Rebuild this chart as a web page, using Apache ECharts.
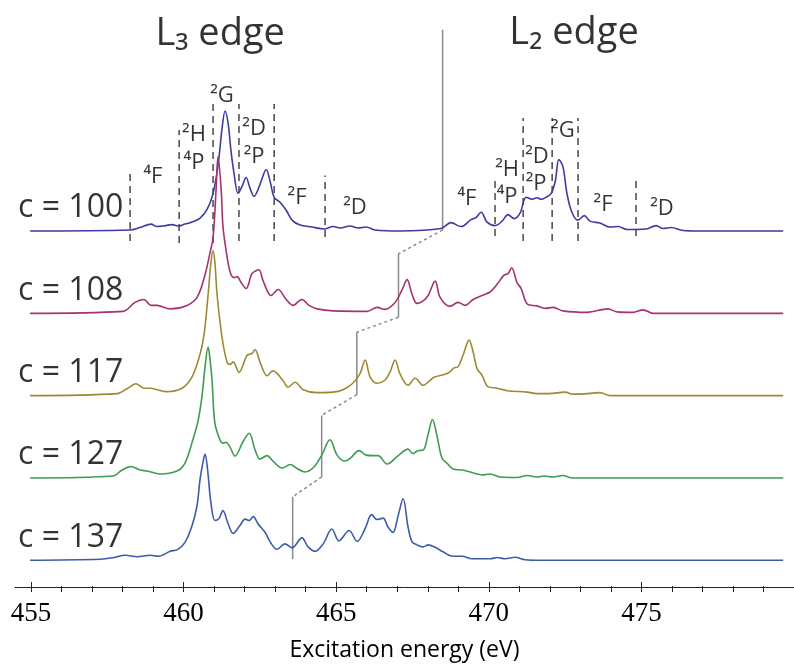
<!DOCTYPE html>
<html>
<head>
<meta charset="utf-8">
<script src="https://cdn.jsdelivr.net/npm/echarts@6/dist/echarts.min.js"></script>
<style>
  html, body { margin: 0; padding: 0; background: #fff; }
  #chart { width: 794px; height: 667px; }
</style>
</head>
<body>
<div id="chart"></div>
<script>
// spectra: [excitation energy (eV), intensity above own baseline]
const c100 = [[454.97,0],[458.21,1],[458.53,3.5],[458.89,7],[459.08,4.5],[459.28,5],[459.57,6.5],[459.76,5],[459.99,7],[460.22,9],[460.48,13],[460.71,22],[460.90,38],[461.06,66],[461.19,103],[461.29,121],[461.39,108],[461.48,81],[461.58,58],[461.71,38],[461.84,45],[461.97,54],[462.10,43],[462.23,35],[462.36,42],[462.49,53],[462.62,62],[462.75,50],[462.88,34],[463.07,29],[463.27,21],[463.46,11],[463.72,6],[464.11,4],[464.50,2],[464.79,4.5],[465.02,3],[465.34,5],[465.60,3],[465.86,4],[466.15,1],[466.96,0],[468.29,2.5],[468.61,8.5],[468.94,4.5],[469.26,11.5],[469.42,13.5],[469.59,19],[469.78,9],[470.04,5.5],[470.27,10],[470.46,16.5],[470.66,12.5],[470.85,18],[471.05,34],[471.24,32],[471.40,33.5],[471.53,32],[471.69,34],[471.86,38],[471.99,50],[472.11,72],[472.24,65],[472.37,38],[472.53,19],[472.73,11],[472.93,15.5],[473.12,10],[473.44,8],[473.77,4],[474.03,4.5],[474.32,1.5],[474.94,2],[475.26,5.5],[475.49,2.5],[475.75,3.5],[476.13,0.5],[476.69,0],[479.38,0]];
const c108 = [[454.97,0],[457.98,2],[458.37,11],[458.66,14],[458.89,8],[459.08,8],[459.51,4.5],[460.06,8],[460.38,16],[460.64,39],[460.80,61],[460.90,76],[461.00,126],[461.06,158],[461.16,126],[461.22,88],[461.32,64],[461.45,42],[461.58,36],[461.68,37],[461.81,31],[461.97,25],[462.16,40],[462.29,43],[462.39,44],[462.52,33],[462.78,18],[463.01,24],[463.27,14],[463.49,8],[463.78,14],[464.01,8],[464.27,4.5],[464.79,2.5],[465.89,2],[466.22,6],[466.47,4],[466.80,11],[467.03,24],[467.19,34],[467.35,19],[467.51,10],[467.71,12.5],[467.87,18],[468.10,32.5],[468.26,16],[468.58,7],[468.84,11],[469.07,8],[469.33,14],[469.62,18],[469.88,21.5],[470.11,29.5],[470.33,38.5],[470.46,40],[470.58,46],[470.75,31],[470.88,25.5],[471.10,9],[471.40,7.5],[471.66,5],[471.92,6],[472.24,2.5],[473.02,1],[473.70,4.5],[473.99,1.5],[474.51,1],[474.84,3.5],[475.16,0],[479.38,0]];
const c117 = [[454.97,0],[457.79,2],[458.11,7],[458.40,12],[458.66,7.5],[458.86,7.5],[459.38,4],[459.89,7.5],[460.22,19],[460.48,42],[460.61,62],[460.74,102],[460.83,134],[460.90,146],[460.96,134],[461.03,102],[461.19,59],[461.35,34],[461.45,31.5],[461.55,34],[461.74,23.5],[462.00,40.5],[462.16,42.5],[462.26,46.5],[462.42,34],[462.65,20],[462.84,25],[463.17,15],[463.33,8.5],[463.56,13.5],[463.82,6],[464.27,3],[464.79,3.5],[465.11,6],[465.41,12],[465.66,22],[465.83,36],[465.99,19],[466.22,12.5],[466.47,15.5],[466.64,24],[466.80,36],[466.96,22],[467.22,10.5],[467.45,17.5],[467.71,10.5],[468.06,18.5],[468.42,21.5],[468.58,24],[468.71,28],[468.84,29],[469.00,40.5],[469.20,56],[469.33,44],[469.46,27],[469.62,20.5],[469.81,9],[470.11,7.5],[470.43,5],[471.08,3.5],[471.40,2],[471.79,2],[472.31,3.5],[472.57,1.5],[472.80,1.5],[473.44,3],[473.77,0],[479.38,0]];
const c127 = [[454.97,0],[457.66,2],[457.95,8],[458.24,11.5],[458.53,8],[458.76,7],[459.18,4],[459.73,7],[459.99,15],[460.25,39],[460.41,57],[460.54,82],[460.64,112],[460.74,132],[460.80,120],[460.87,97],[460.96,55],[461.13,38],[461.22,35],[461.32,36],[461.45,31],[461.61,22],[461.87,36.5],[462.07,45],[462.26,28.5],[462.42,19],[462.65,22.5],[462.84,17],[463.14,10],[463.40,13.5],[463.62,9.5],[463.88,6],[464.17,11],[464.43,23.5],[464.69,38.5],[464.92,23],[465.18,17],[465.37,20.5],[465.63,27.5],[465.86,23],[466.09,22.5],[466.25,22.5],[466.54,14],[466.90,22.5],[467.22,29],[467.38,24.5],[467.54,27.5],[467.71,28],[467.87,44],[468.01,59],[468.16,42],[468.32,20],[468.48,15],[468.68,9],[468.97,8],[469.29,5.5],[469.62,3],[469.88,4],[470.20,1],[470.75,0.5],[471.08,2.5],[471.40,1],[471.63,2],[471.92,1],[472.24,2.5],[472.54,0],[479.38,0]];
const c137 = [[454.97,0],[457.24,1],[457.66,2.5],[458.05,5],[458.44,3.5],[458.86,5],[459.12,4],[459.51,9],[459.76,11],[459.99,18],[460.22,35],[460.38,55],[460.48,82],[460.58,100],[460.64,107],[460.72,92],[460.83,58],[460.96,40],[461.09,42],[461.22,50],[461.39,36.5],[461.55,27],[461.77,35],[461.94,41.5],[462.07,40],[462.20,44],[462.36,36.5],[462.59,28],[462.75,18.5],[462.97,11],[463.23,16.5],[463.46,12.5],[463.78,22.5],[463.98,13.5],[464.21,9],[464.47,16.5],[464.75,31.5],[464.98,19.5],[465.31,30],[465.57,19],[465.83,32],[466.04,46],[466.22,41],[466.41,42.5],[466.57,33.5],[466.73,28],[466.90,45],[467.06,62],[467.22,33.5],[467.35,18.5],[467.51,15.5],[467.71,13.5],[467.87,15.5],[468.10,13],[468.32,9],[468.68,4],[468.97,4],[469.29,1.5],[469.88,1.5],[470.11,2.7],[470.36,1.5],[470.69,3],[471.01,0.5],[471.50,0],[479.38,0]];

const spectra = [c100, c108, c117, c127, c137];
const concLabels = ['c = 100', 'c = 108', 'c = 117', 'c = 127', 'c = 137'];
const offsets = [359, 276, 193, 110, 27];

// L3 / L2 split per spectrum
const edgeSplit = [468.34, 466.91, 465.56, 464.42, 463.48];
const edgeLow = [360, 272, 194, 111, 28];
const edgeHigh = [562, 336, 257, 173, 91];

// multiplet term boundaries (c = 100)
const termLineE = [458.21, 459.80, 460.90, 461.74, 462.88, 464.53, 470.04, 470.95, 471.89, 472.73, 474.61];
const termLineTop = [417, 461, 488, 487, 487, 415, 413, 473, 473, 473, 413];
const termLineBottom = [349, 347, 347, 349, 349, 353, 354, 349, 349, 349, 354];

const termNames = ['⁴F', '²H', '⁴P', '²G', '²D', '²P', '²F', '²D', '⁴F', '²H', '⁴P', '²D', '²P', '²G', '²F', '²D'];
const termE = [458.95, 460.28, 460.28, 461.19, 462.23, 462.23, 463.62, 465.50, 469.13, 470.43, 470.43, 471.40, 471.37, 472.24, 473.54, 475.45];
const termY = [414, 456, 428, 495, 462, 434, 393, 382, 392, 421, 394, 434, 407, 460, 386, 381];

const edgeTitles = ['L₃ edge', 'L₂ edge'];
const edgeTitleE = [461.13, 472.60];
const edgeTitleY = [558, 559];

const colors = ['#3d3d9f', '#a4336f', '#9b8a34', '#3f9b50', '#3d5ca8'];

const chart = echarts.init(document.getElementById('chart'));
const series = [];

spectra.forEach((s, i) => {
  series.push({
    type: 'line',
    data: s.map(p => [p[0], p[1] + offsets[i]]),
    showSymbol: false,
    smooth: 0.35,
    lineStyle: { color: colors[i], width: 1.6 },
    z: 5,
    silent: true
  });
});

termLineE.forEach((e, i) => {
  series.push({
    type: 'line',
    data: [[e, termLineBottom[i]], [e, termLineTop[i]]],
    showSymbol: false,
    lineStyle: { color: '#2a2a2a', width: 1.3, type: [7, 5] },
    z: 3,
    silent: true
  });
});

edgeSplit.forEach((e, i) => {
  series.push({
    type: 'line',
    data: [[e, edgeLow[i]], [e, edgeHigh[i]]],
    showSymbol: false,
    lineStyle: { color: '#8a8a8a', width: 1.5 },
    z: 4,
    silent: true
  });
  if (i < edgeSplit.length - 1) {
    series.push({
      type: 'line',
      data: [[e, edgeLow[i]], [edgeSplit[i + 1], edgeHigh[i + 1]]],
      showSymbol: false,
      lineStyle: { color: '#8a8a8a', width: 1.5, type: [3, 3] },
      z: 4,
      silent: true
    });
  }
});

const textSeries = (data, style) => ({
  type: 'scatter',
  data: data,
  symbolSize: 1,
  itemStyle: { color: 'transparent' },
  label: Object.assign({ show: true, formatter: p => p.data[2], color: '#000' }, style),
  z: 6,
  silent: true
});

series.push(textSeries(termNames.map((t, i) => [termE[i], termY[i], t]),
  { position: 'inside', fontSize: 22, fontFamily: 'Open Sans' }));
series.push(textSeries(edgeTitles.map((t, i) => [edgeTitleE[i], edgeTitleY[i], t]),
  { position: 'inside', fontSize: 38, fontFamily: 'Open Sans' }));
series.push(textSeries(concLabels.map((t, i) => [454.58, offsets[i] + 23, t]),
  { position: 'inside', align: 'left', fontSize: 32, fontFamily: 'Open Sans' }));

chart.setOption({
  animation: false,
  backgroundColor: '#fff',
  grid: [
    { left: 15, top: 0, width: 779, height: 592 },
    { left: 31, top: 0, width: 771.25, height: 592 }
  ],
  xAxis: [
    {
      gridIndex: 0, type: 'value', min: 454.48, max: 479.73,
      axisLine: { show: true, lineStyle: { color: '#222', width: 1 } },
      axisTick: { show: false }, axisLabel: { show: false }, splitLine: { show: false },
      name: 'Excitation energy (eV)', nameLocation: 'middle', nameGap: 52,
      nameTextStyle: { fontSize: 23, fontFamily: 'Open Sans', color: '#000' }
    },
    {
      gridIndex: 1, type: 'value', min: 455, max: 480, interval: 5,
      axisLine: { show: false },
      axisTick: { show: true, inside: true, length: 10, lineStyle: { color: '#222' } },
      minorTick: { show: true, splitNumber: 5, length: 6, lineStyle: { color: '#222' } },
      splitLine: { show: false }, minorSplitLine: { show: false },
      axisLabel: { margin: 8, fontSize: 27, fontFamily: 'Liberation Serif', color: '#000', showMaxLabel: false }
    }
  ],
  yAxis: [
    { gridIndex: 0, type: 'value', min: 0, max: 592, show: false },
    { gridIndex: 1, type: 'value', min: 0, max: 592, show: false }
  ],
  series: series
});
</script>
</body>
</html>
